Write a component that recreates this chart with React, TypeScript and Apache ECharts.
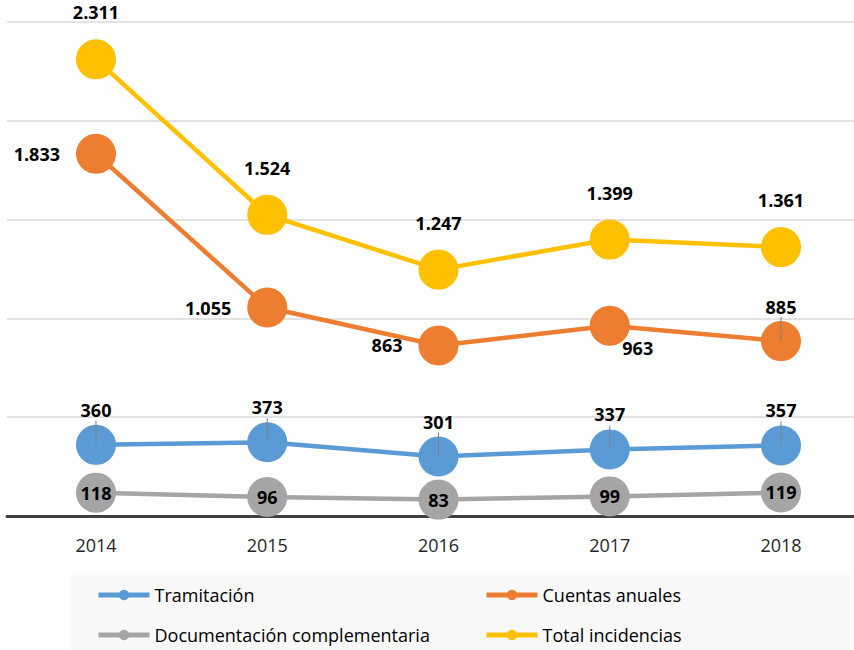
import React, { useEffect, useRef } from "react";
import * as echarts from "echarts";

const years = ["2014", "2015", "2016", "2017", "2018"];
const tramitacion = [360, 373, 301, 337, 357];
const cuentasAnuales = [1833, 1055, 863, 963, 885];
const documentacion = [118, 96, 83, 99, 119];
const totalIncidencias = [2311, 1524, 1247, 1399, 1361];
const legendRows = [
  ["Tramitación", "Cuentas anuales"],
  ["Documentación complementaria", "Total incidencias"],
];

const FONT = "'Open Sans', 'Liberation Sans', sans-serif";

const fmt = (v: number) => {
  const s = String(Math.round(v));
  return s.replace(/\B(?=(\d{3})+(?!\d))/g, ".");
};

const numStyle = { fontSize: 18, fontWeight: "bold" as const, color: "#000", fontFamily: FONT, lineHeight: 22 };
const leaderRich = {
  a: numStyle,
  b: { width: 1, height: 24, backgroundColor: "#808080" },
};
const leaderLabel = {
  show: true,
  position: "inside",
  offset: [0, -23],
  formatter: (p: any) => `{a|${fmt(p.value)}}\n{b|}`,
  rich: leaderRich,
};

export default function App() {
  const ref = useRef<HTMLDivElement>(null);
  useEffect(() => {
    if (!ref.current) return;
    const chart = echarts.init(ref.current, null, { renderer: "svg" });
    const orangeLabels: any[] = [
      { show: true, position: "left", distance: 16 },
      { show: true, position: "left", distance: 16 },
      { show: true, position: "left", distance: 16 },
      { show: true, position: "inside", offset: [28, 22] },
      leaderLabel,
    ];
    const baseSeries = (name: string, data: number[], color: string) => ({
      name,
      type: "line",
      data,
      symbol: "circle",
      symbolSize: 40,
      lineStyle: { color, width: 4.5 },
      itemStyle: { color },
      xAxisIndex: 0,
      yAxisIndex: 0,
    });
    const colLeft = [96, 484];
    const rowTop = [585, 625];
    const legends: any[] = [];
    legendRows.forEach((row, r) =>
      row.forEach((name, c) =>
        legends.push({
          data: [name],
          left: colLeft[c],
          top: rowTop[r],
          padding: 0,
          itemWidth: 51,
          itemHeight: 13,
          lineStyle: { width: 5 },
          textStyle: { fontSize: 18, color: "#000", fontFamily: FONT, lineHeight: 20 },
        })
      )
    );
    chart.setOption({
      animation: false,
      backgroundColor: "#fff",
      textStyle: { fontFamily: FONT },
      grid: [
        { left: 96, right: 73, top: 22, bottom: 134 },
        { left: 7, right: 0, top: 22, bottom: 134 },
      ],
      xAxis: [
        {
          type: "category",
          gridIndex: 0,
          data: years,
          boundaryGap: false,
          axisLine: { show: false },
          axisTick: { show: false },
          axisLabel: { color: "#262626", fontSize: 18, margin: 20, fontFamily: FONT },
          splitLine: { show: false },
          z: 1,
        },
        {
          type: "value",
          gridIndex: 1,
          min: 0,
          max: 1,
          axisLine: { show: true, lineStyle: { color: "#404040", width: 3 } },
          axisTick: { show: false },
          axisLabel: { show: false },
          splitLine: { show: false },
        },
      ],
      yAxis: [
        {
          type: "value",
          gridIndex: 0,
          min: 0,
          max: 2500,
          interval: 500,
          show: false,
          splitLine: { show: false },
        },
        {
          type: "value",
          gridIndex: 1,
          min: 0,
          max: 2500,
          interval: 500,
          axisLabel: { show: false },
          axisLine: { show: false },
          axisTick: { show: false },
          splitLine: { lineStyle: { color: "#d9d9d9", width: 1.5 } },
        },
      ],
      graphic: [
        {
          type: "rect",
          z: -10,
          shape: { x: 71, y: 575, width: 780, height: 80 },
          style: { fill: "#f8f8f8" },
        },
      ],
      legend: legends,
      series: [
        {
          ...baseSeries("Tramitación", tramitacion, "#5B9BD5"),
          label: leaderLabel,
          z: 3,
        },
        {
          ...baseSeries("Cuentas anuales", cuentasAnuales, "#ED7D31"),
          data: cuentasAnuales.map((v, i) => ({ value: v, label: orangeLabels[i] })),
          label: {
            show: true,
            formatter: (p: any) => fmt(p.value),
            ...numStyle,
          },
          z: 3,
        },
        {
          ...baseSeries("Documentación complementaria", documentacion, "#A5A5A5"),
          label: {
            show: true,
            position: "inside",
            formatter: (p: any) => fmt(p.value),
            ...numStyle,
          },
          z: 3,
        },
        {
          ...baseSeries("Total incidencias", totalIncidencias, "#FFC000"),
          label: {
            show: true,
            position: "top",
            distance: 16,
            formatter: (p: any) => fmt(p.value),
            ...numStyle,
          },
          z: 3,
        },
      ],
    });
    return () => chart.dispose();
  }, []);
  return (
    <div
      ref={ref}
      style={{ position: "fixed", left: 0, top: 0, width: 854, height: 650 }}
    />
  );
}
